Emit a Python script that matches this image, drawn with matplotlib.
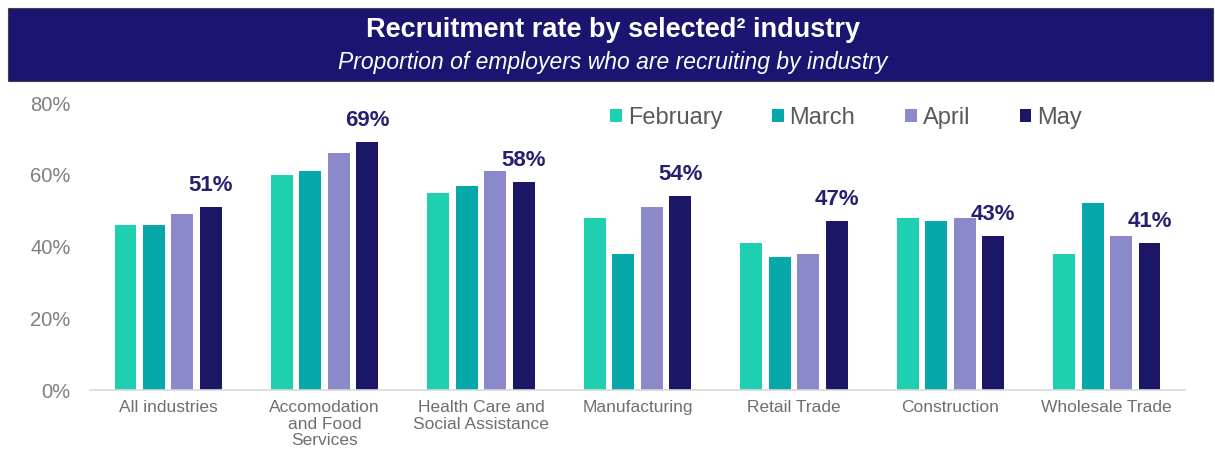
import matplotlib.pyplot as plt
import numpy as np
from matplotlib.patches import Rectangle, Patch

plt.rcParams['font.family'] = ['Liberation Sans', 'DejaVu Sans']

industries = ['All industries', 'Accomodation\nand Food\nServices', 'Health Care and\nSocial Assistance',
              'Manufacturing', 'Retail Trade', 'Construction', 'Wholesale Trade']
months = ['February', 'March', 'April', 'May']
february = [46, 60, 55, 48, 41, 48, 38]
march = [46, 61, 57, 38, 37, 47, 52]
april = [49, 66, 61, 51, 38, 48, 43]
may = [51, 69, 58, 54, 47, 43, 41]

colors = ['#1fd0b0', '#06a8aa', '#8b89c9', '#1b1666']
navy = '#1b1470'
grey = '#7f7f7f'

fig = plt.figure(figsize=(12.15, 4.65), dpi=100)

# banner with title and subtitle
fig.patches.append(Rectangle((8 / 1215, 1 - 81 / 465), 1205 / 1215, 73 / 465,
                             transform=fig.transFigure, facecolor=navy,
                             edgecolor='#444444', linewidth=0.8, zorder=0))
fig.text(0.5045, 1 - 30 / 465, 'Recruitment rate by selected² industry', color='white',
         fontsize=19.5, fontweight='bold', ha='center', va='center')
fig.text(0.5045, 1 - 63 / 465, 'Proportion of employers who are recruiting by industry',
         color='white', fontsize=16.5, style='italic', ha='center', va='center')

ax = fig.add_axes([90 / 1215, 1 - 390 / 465, 1095 / 1215, 287 / 465])

x = np.arange(len(industries))
width = 0.14
pitch = 0.182
series = [february, march, april, may]
for i, (vals, col, name) in enumerate(zip(series, colors, months)):
    offs = (i - 1.5) * pitch
    ax.bar(x + offs, vals, width=width, color=col, label=name, zorder=2)

# value labels above the May bars
for xi, v in zip(x, may):
    ax.annotate(f'{v}%', (xi + 1.5 * pitch, v), xytext=(0, 8), textcoords='offset points',
                ha='center', va='bottom', fontsize=16, fontweight='bold', color='#25206e')

ax.set_xlim(-0.5, len(industries) - 0.5)
ax.set_ylim(0, 80)
ax.set_yticks([0, 20, 40, 60, 80])
ax.set_yticklabels([f'{t}%' for t in [0, 20, 40, 60, 80]], fontsize=14.5, color=grey)
ax.set_xticks(x)
ax.set_xticklabels(industries, fontsize=12.5, color='#6f6f6f', linespacing=1.15)
ax.tick_params(axis='both', length=0)
ax.tick_params(axis='y', pad=14)
ax.tick_params(axis='x', pad=7)
for s in ['top', 'right', 'left']:
    ax.spines[s].set_visible(False)
ax.spines['bottom'].set_color('#d9d9d9')
ax.spines['bottom'].set_linewidth(1.2)

handles = [Patch(facecolor=c, label=m) for c, m in zip(colors, months)]
leg = ax.legend(handles=handles, ncol=4, frameon=False, loc='center left',
                bbox_to_anchor=(520 / 1095, 1 - (118 - 103) / 287),
                fontsize=17, handlelength=0.5, handleheight=0.5, handletextpad=0.25,
                columnspacing=2.1, borderaxespad=0, borderpad=0)
for t in leg.get_texts():
    t.set_color('#595959')

fig.savefig('out.png', dpi=100)
